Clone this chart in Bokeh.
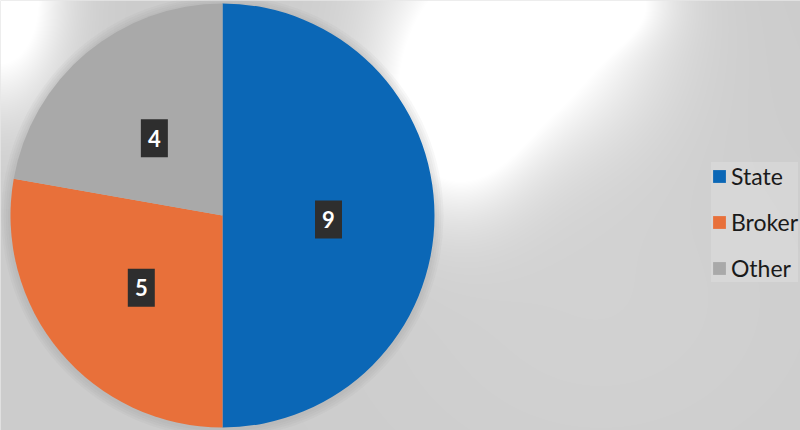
import numpy as np
from bokeh.plotting import figure
from bokeh.models import ColumnDataSource, Legend, LegendItem
from bokeh.core.properties import value
from bokeh.embed import file_html
from bokeh.resources import INLINE

categories = ["State", "Broker", "Other"]
counts = [9, 5, 4]
colors = ["#0b67b6", "#e8703a", "#a9a9a9"]

W, H = 800, 430
cx, cy, R = 222, 215, 212
label_drop = 4

total = sum(counts)
cum = np.cumsum([0] + counts)
start = np.pi / 2 - 2 * np.pi * cum[:-1] / total
end = np.pi / 2 - 2 * np.pi * cum[1:] / total
mid = (start + end) / 2

src = ColumnDataSource(dict(
    cat=categories, val=counts, color=colors,
    start=start, end=end,
    lx=cx + 0.5 * R * np.cos(mid),
    ly=cy + 0.5 * R * np.sin(mid) - label_drop,
    txt=[str(v) for v in counts],
))

p = figure(width=W, height=H, x_range=(0, W), y_range=(0, H),
           output_backend="svg", toolbar_location=None, min_border=0)
p.axis.visible = False
p.grid.visible = False
p.outline_line_color = None
p.background_fill_color = "#cfcfcf"
p.border_fill_color = "#cfcfcf"

# scanned paper background: grey with white glare (image coords, top-based)
iy, ix = np.mgrid[0:H, 0:W]
base = 204.0 + 6 * np.exp(-(((ix - 600) / 250) ** 2 + ((iy - 300) / 200) ** 2))

def spot(x0, y0, rx, ry, k=1.6):
    return np.clip(k * np.exp(-(((ix - x0) / rx) ** 2 + ((iy - y0) / ry) ** 2)), 0, 1)

glare = (spot(520, 30, 120, 110) + spot(455, 120, 70, 90, 1.3)
         + spot(600, 0, 60, 40, 0.9) + spot(0, 0, 60, 100, 1.5))
g = base + (255 - base) * np.clip(glare, 0, 1)
g = np.clip(g, 0, 255).astype(np.uint32)
img = (255 << 24) | (g << 16) | (g << 8) | g
img = img[::-1].copy()
p.image_rgba(image=[img.view(np.uint32)], x=0, y=0, dw=W, dh=H)

# soft shadow round the pie
for i in range(4):
    p.circle(x=cx, y=cy - 1, radius=R + 9 - 2.2 * i,
             fill_color="#7a7a7a", fill_alpha=0.05, line_color=None)

pie = p.wedge(x=cx, y=cy, radius=R, start_angle="start", end_angle="end",
              direction="clock", fill_color="color", line_color=None, source=src)

p.rect(x="lx", y="ly", width=27, height=38, fill_color="#2e2e2e",
       line_color=None, source=src)
p.text(x="lx", y="ly", text="txt", text_align="center", text_baseline="middle",
       text_color="white", text_font=value("Lato"), text_font_size="22px",
       text_font_style="bold", source=src)

legend = Legend(items=[LegendItem(label=c, renderers=[pie], index=i)
                       for i, c in enumerate(categories)],
                location=(711, 148), orientation="vertical",
                glyph_width=16, glyph_height=16, label_height=22,
                spacing=18, label_standoff=4, padding=4, margin=0,
                label_text_font="Lato", label_text_font_size="23px",
                label_text_color="#1a1a1a",
                background_fill_color="#dcdcdc", background_fill_alpha=0.6,
                border_line_color=None)
p.add_layout(legend, "center")

open("out.html", "w").write(file_html(p, INLINE))
